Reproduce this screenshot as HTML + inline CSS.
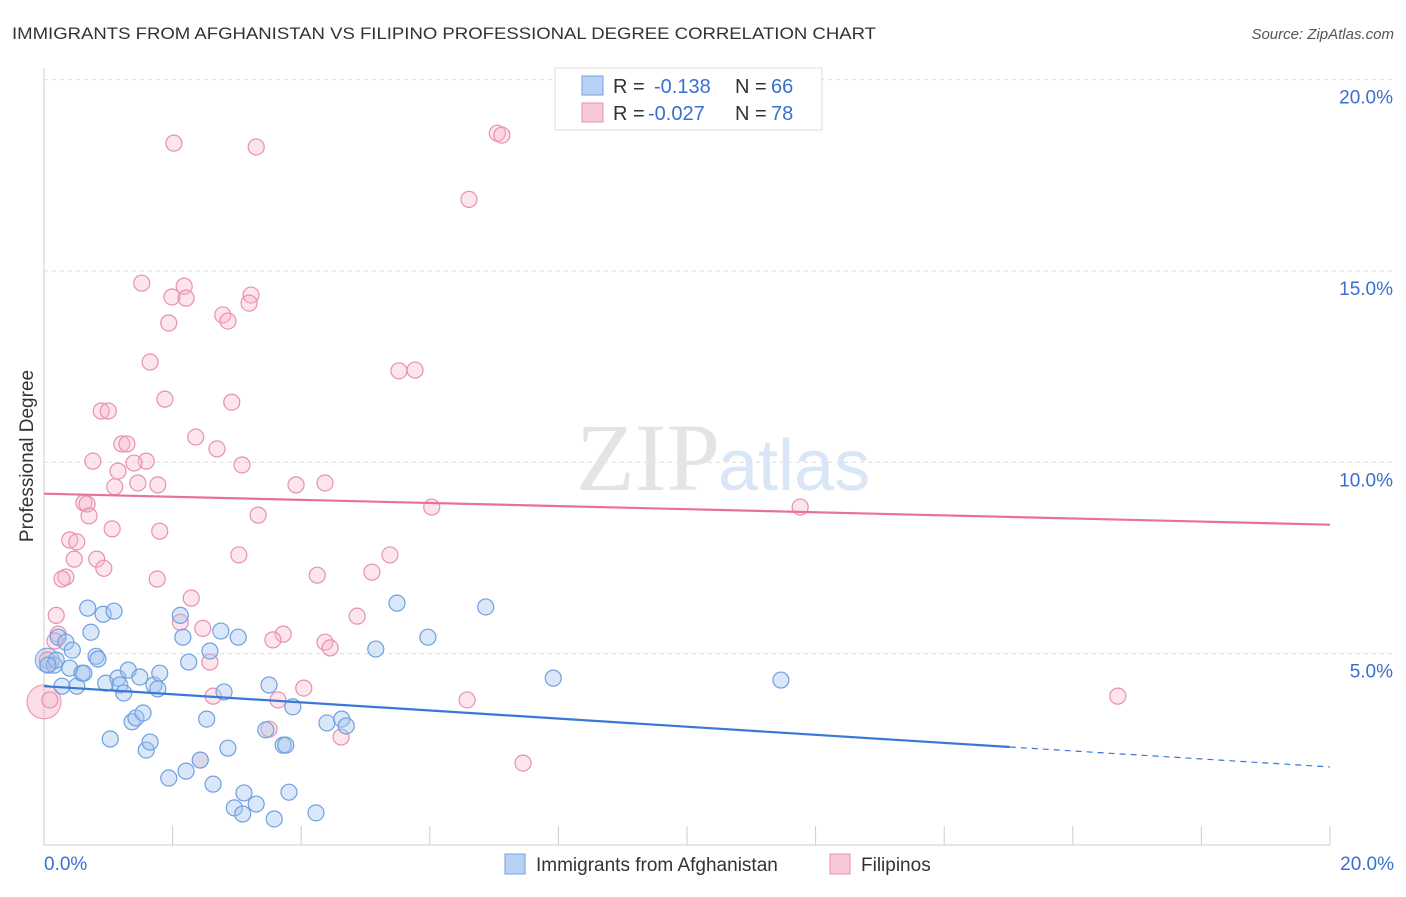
<!DOCTYPE html>
<html><head><meta charset="utf-8"><style>
body{margin:0;background:#fff;font-family:"Liberation Sans",sans-serif;}
</style></head><body>
<svg width="1406" height="892" viewBox="0 0 1406 892" xmlns="http://www.w3.org/2000/svg">
<text x="12" y="39" font-size="17" fill="#333" textLength="864" lengthAdjust="spacingAndGlyphs">IMMIGRANTS FROM AFGHANISTAN VS FILIPINO PROFESSIONAL DEGREE CORRELATION CHART</text>
<text x="1394" y="39" font-size="15" fill="#555" font-style="italic" text-anchor="end">Source: ZipAtlas.com</text>
<g id="grid"></g>
<text x="720" y="490" font-size="96" fill="#e4e4e4" font-family="Liberation Serif" text-anchor="end">ZIP</text>
<text x="718" y="490" font-size="72" fill="#d8e6f5">atlas</text>
<text x="33" y="456" font-size="19" fill="#333" text-anchor="middle" transform="rotate(-90 33 456)">Professional Degree</text>
<g id="pts"></g>
<g id="trend"></g>
<g>
<rect x="555" y="68" width="267" height="62" fill="#fff" stroke="#ddd"/>
<rect x="582" y="76" width="21" height="19" fill="#b8d2f5" stroke="#6fa0e0"/>
<rect x="582" y="103" width="21" height="19" fill="#f9c8d8" stroke="#e890b0"/>
<g font-size="20" fill="#333">
<text x="613" y="93">R =</text><text x="654" y="93" fill="#3a6fd0">-0.138</text><text x="735" y="93">N =</text><text x="771" y="93" fill="#3a6fd0">66</text>
<text x="613" y="120">R =</text><text x="648" y="120" fill="#3a6fd0">-0.027</text><text x="735" y="120">N =</text><text x="771" y="120" fill="#3a6fd0">78</text>
</g>
</g>
<g>
<rect x="505" y="854" width="20" height="20" fill="#b8d2f5" stroke="#6fa0e0"/>
<text x="536" y="871" font-size="19" fill="#333">Immigrants from Afghanistan</text>
<rect x="830" y="854" width="20" height="20" fill="#f9c8d8" stroke="#e890b0"/>
<text x="861" y="871" font-size="19" fill="#333">Filipinos</text>
</g>
</svg>
<script>
const yTicks=[5,10,15,20];
const yTickLabels=["5.0%","10.0%","15.0%","20.0%"];
const blueX=[0.16,0.19,0.22,0.28,0.34,0.40,0.44,0.51,0.59,0.62,0.68,0.73,0.81,0.84,0.92,0.96,1.03,1.09,1.15,1.18,1.24,1.31,1.37,1.43,1.49,1.54,1.59,1.65,1.71,1.77,1.80,1.94,2.12,2.16,2.21,2.25,2.43,2.53,2.58,2.63,2.75,2.80,2.86,2.96,3.02,3.09,3.11,3.30,3.50,3.45,3.58,3.72,3.76,3.81,3.87,4.23,4.40,4.63,4.70,5.16,5.49,5.97,6.87,7.92,11.46,0.06];
const blueY=[4.70,4.83,5.43,4.15,5.30,4.62,5.09,4.15,4.49,4.49,6.19,5.56,4.93,4.86,6.03,4.23,2.77,6.11,4.36,4.18,3.97,4.57,3.22,3.32,4.39,3.45,2.48,2.69,4.18,4.08,4.49,1.75,6.00,5.43,1.93,4.78,2.22,3.29,5.07,1.59,5.59,4.00,2.53,0.97,5.43,0.81,1.36,1.07,4.18,3.01,0.68,2.61,2.61,1.38,3.61,0.84,3.19,3.29,3.11,5.12,6.32,5.43,6.22,4.36,4.31,4.70];
const pinkX=[2.02,3.30,7.05,7.12,6.61,1.52,2.18,1.99,2.21,3.22,3.19,2.78,2.86,1.94,1.65,5.52,5.77,1.88,2.92,0.89,1.00,2.36,1.21,1.29,2.69,0.76,1.59,1.40,3.08,1.15,1.77,1.10,1.46,3.92,4.37,0.62,0.67,0.70,6.03,11.76,3.33,1.06,1.80,0.40,0.51,0.82,0.47,3.03,5.38,0.93,0.34,0.28,1.76,4.25,5.10,0.19,2.29,2.12,4.87,2.47,3.72,3.56,4.37,4.45,0.22,2.58,0.05,4.04,2.63,3.64,16.70,6.58,3.50,4.62,2.43,7.45,0.09,0.17];
const pinkY=[18.34,18.24,18.60,18.55,16.87,14.68,14.60,14.32,14.29,14.37,14.16,13.85,13.69,13.64,12.62,12.39,12.41,11.65,11.57,11.34,11.34,10.66,10.48,10.48,10.35,10.03,10.03,9.98,9.93,9.77,9.41,9.36,9.46,9.41,9.46,8.94,8.91,8.60,8.83,8.83,8.62,8.26,8.20,7.97,7.92,7.47,7.47,7.58,7.58,7.23,7.00,6.95,6.95,7.05,7.13,6.00,6.45,5.82,5.98,5.66,5.51,5.36,5.30,5.15,5.51,4.78,4.83,4.10,3.89,3.79,3.89,3.79,3.03,2.82,2.22,2.14,3.79,5.33];
const blueTrend=[4.15,2.56], blueTrendEnd=2.04;
const pinkTrend=[9.18,8.37];
const NS="http://www.w3.org/2000/svg";
const X=v=>44+v*64.3, Y=v=>845-v*38.27;
function mk(t,a,p){const e=document.createElementNS(NS,t);for(const k in a)e.setAttribute(k,a[k]);p.appendChild(e);return e;}
const grid=document.getElementById('grid');
mk('line',{x1:44,y1:68,x2:44,y2:845,stroke:'#ccc'},grid);
mk('line',{x1:44,y1:845,x2:1330,y2:845,stroke:'#ccc'},grid);
yTicks.forEach((t,i)=>{
 const l=mk('line',{x1:44,y1:Y(t),x2:1394,y2:Y(t),stroke:'#ddd','stroke-dasharray':'4,4'},grid);
 
 
 const tx=mk('text',{x:1393,y:Y(t)+24,'font-size':19,fill:'#3a6fd0','text-anchor':'end'},grid);
 tx.textContent=yTickLabels[i];
 
 
});
for(let v=2;v<=20;v+=2){const l=mk('line',{x1:X(v),y1:826,x2:X(v),y2:845,stroke:'#ccc'},grid);
 
 }
[["0.0%",44,'start'],["20.0%",1394,'end']].forEach(a=>{const t=mk('text',{x:a[1],y:870,'font-size':19,fill:'#3a6fd0','text-anchor':a[2]},grid);t.textContent=a[0];
 
 });
const pts=document.getElementById('pts');
mk('circle',{cx:X(0),cy:Y(3.74),r:17,fill:'rgba(245,180,200,0.45)',stroke:'#e890b0'},pts);
mk('circle',{cx:X(0.05),cy:Y(4.83),r:12,fill:'rgba(160,195,240,0.5)',stroke:'#6fa0e0'},pts);
pinkX.forEach((v,i)=>{const c=mk('circle',{cx:X(v),cy:Y(pinkY[i]),r:8,fill:'rgba(245,180,200,0.35)',stroke:'#e890b0','stroke-width':1.2},pts);
 
 });
blueX.forEach((v,i)=>{const c=mk('circle',{cx:X(v),cy:Y(blueY[i]),r:8,fill:'rgba(160,195,240,0.4)',stroke:'#6fa0e0','stroke-width':1.2},pts);
 
 });
const tr=document.getElementById('trend');
const b1=mk('line',{x1:X(0),y1:Y(blueTrend[0]),x2:X(15.02),y2:Y(blueTrend[1]),stroke:'#3a78d8','stroke-width':2.2},tr);


const b2=mk('line',{x1:X(15.02),y1:Y(blueTrend[1]),x2:X(20),y2:Y(blueTrendEnd),stroke:'#3a78d8','stroke-width':1.2,'stroke-dasharray':'6,5'},tr);


const p1=mk('line',{x1:X(0),y1:Y(pinkTrend[0]),x2:X(20),y2:Y(pinkTrend[1]),stroke:'#e8709a','stroke-width':2.2},tr);


</script>
</body></html>
